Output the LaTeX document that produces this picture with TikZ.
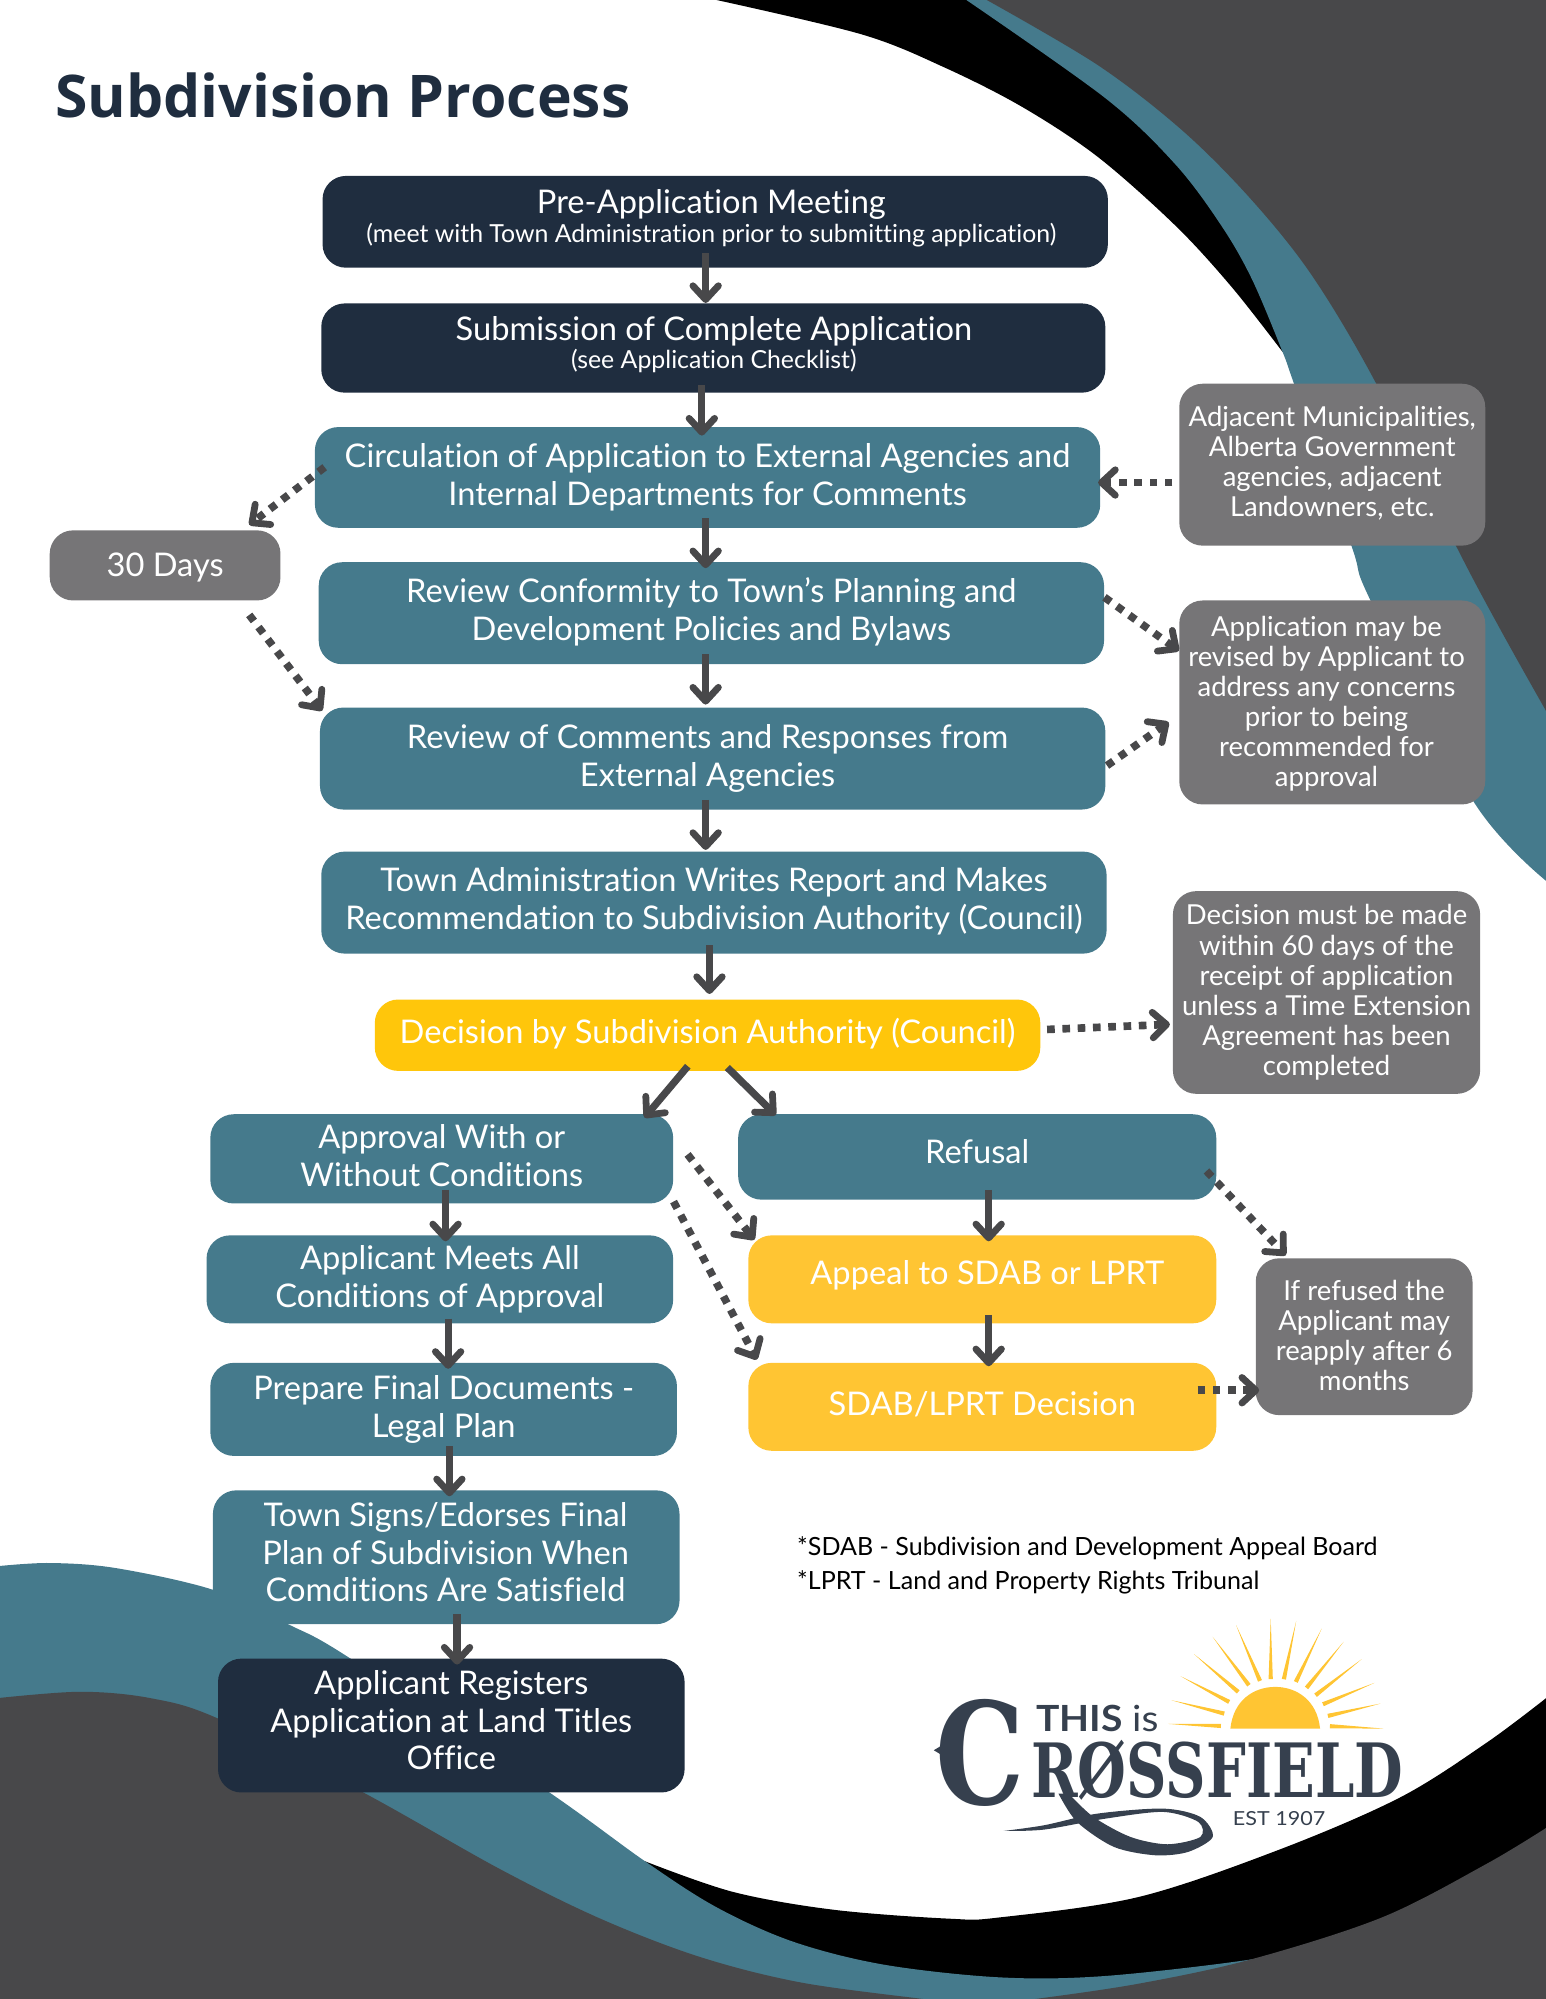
\documentclass[tikz,border=0pt]{standalone}
\usepackage{fontspec}
\setmainfont{Lato}[Ligatures=NoCommon]
\newfontfamily\titlefont{Open Sans}
\newfontfamily\logoserif{DejaVu Serif}
\usetikzlibrary{arrows.meta,calc}
\definecolor{navy}{HTML}{1F2D3F}
\definecolor{teal1}{HTML}{457A8C}
\definecolor{greybox}{HTML}{767577}
\definecolor{darkgrey}{HTML}{48484A}
\definecolor{gold}{HTML}{FFC60B}
\definecolor{goldlight}{HTML}{FFC533}
\definecolor{logoink}{HTML}{36404E}
\tikzset{
  box/.style={rounded corners=11pt,inner sep=0pt,align=center,text=white,
    font=\fontsize{15.35}{17.7}\selectfont},
  navybox/.style={box,fill=navy},
  tealbox/.style={box,fill=teal1},
  goldbox/.style={box,fill=gold},
  yelbox/.style={box,fill=goldlight},
  greyb/.style={box,fill=greybox,font=\fontsize{12.95}{14.2}\selectfont},
  arr/.style={draw=darkgrey,line width=3.4pt,-{Straight Barb[length=6.5pt,width=12pt,round,line width=3.2pt]}},
  darr/.style={draw=darkgrey,line width=3.6pt,dash pattern=on 3.6pt off 3.6pt,-{Straight Barb[length=6.5pt,width=12pt,round,line width=3.2pt]}},
}
% box named #1 and its text, placed at an offset #7 from the box centre
\newcommand{\bx}[8]{\node[#2,minimum width={(#5-#3+1)*0.6pt},minimum height={(#6-#4+1)*0.6pt}] (#1) at ({(#3+#5+1)/2},{(#4+#6+1)/2}) {};
  \node[#2,fill=none] (#1t) at ([shift={(#7)}]#1.center) {#8};}
\newcommand{\sm}[1]{{\fontsize{11.7}{12.5}\selectfont #1}}
\begin{document}
\begin{tikzpicture}[x=0.6pt,y=-0.6pt]
\useasboundingbox (0,0) rectangle (1212,1568);
% top right swooshes
\fill[black] plot[smooth,tension=0.55] coordinates {(562,0) (676,27) (741,53) (802,84) (861,123) (922,177) (966,225) (1006,276)} -- (1212,0) -- cycle;
\fill[teal1] plot[smooth,tension=0.55] coordinates {(758,0) (867,77) (922,129) (958,177) (982,219) (1006,276) (1015,301) (1060,428) (1075,471) (1156,629) (1214,692)} -- (1214,0) -- cycle;
\fill[darkgrey] plot[smooth,tension=0.55] coordinates {(774,0) (861,51) (927,102) (981,156) (1029,216) (1079,300) (1142,428) (1177,494) (1214,560)} -- (1214,0) -- cycle;
% bottom swooshes
\fill[black] plot[smooth,tension=0.55] coordinates {(506,1460) (575,1484) (654,1498) (745,1505) (784,1504) (893,1488) (1003,1451) (1098,1410) (1166,1367) (1214,1331)} -- (1214,1570) -- (506,1570) -- cycle;
\fill[teal1] plot[smooth,tension=0.55] coordinates {(-2,1228.5) (39,1226) (91,1230) (167,1247) (226,1274) (275,1301) (431,1406) (506,1460) (562,1496) (622,1523) (693,1541) (784,1551) (866,1550) (981,1537) (1030,1525)} -- (1030,1570) -- (-2,1570) -- cycle;
\fill[darkgrey] plot[smooth,tension=0.55] coordinates {(-2,1332) (63,1327) (118,1332) (171,1348) (285,1406) (392,1466) (471,1505) (549,1535) (628,1555) (724,1568) (740,1570)} -- (-2,1570) -- cycle;
\fill[darkgrey] plot[smooth,tension=0.55] coordinates {(1214,1433) (1166,1462) (1084,1504) (981,1537) (893,1556) (812,1568) (790,1570)} -- (1214,1570) -- cycle;
% title
\node[anchor=west,inner sep=0pt,text=navy,font=\titlefont\bfseries\fontsize{27.7}{32}\selectfont] (title) at (43,75) {Subdivision Process};
% boxes
\bx{a}{navybox}{253}{138}{868}{209}{-3,-3}{Pre-Application Meeting\\[-3.9pt]\sm{(meet with Town Administration prior to submitting application)}}
\bx{b}{navybox}{252}{238}{866}{307}{0.5,-2.5}{Submission of Complete Application\\[-4.5pt]\sm{(see Application Checklist)}}
\bx{c}{tealbox}{247}{335}{862}{413}{0,0}{Circulation of Application to External Agencies and\\Internal Departments for Comments}
\bx{d}{tealbox}{250}{441}{865}{520}{0,-1}{Review Conformity to Town’s Planning and\\Development Policies and Bylaws}
\bx{e}{tealbox}{251}{555}{866}{634}{-4,0}{Review of Comments and Responses from\\External Agencies}
\bx{f}{tealbox}{252}{668}{867}{747}{0,-1}{Town Administration Writes Report and Makes\\Recommendation to Subdivision Authority (Council)}
\bx{g}{goldbox}{294}{784}{815}{839}{0,-1}{Decision by Subdivision Authority (Council)}
\bx{h}{tealbox}{165}{874}{527}{943}{0,-2.5}{Approval With or\\Without Conditions}
\bx{i}{tealbox}{579}{874}{953}{940}{0,-4}{Refusal}
\bx{j}{tealbox}{162}{969}{527}{1037}{0,0}{Applicant Meets All\\Conditions of Approval}
\bx{k}{yelbox}{587}{969}{953}{1037}{4,-3}{Appeal to SDAB or LPRT}
\bx{l}{tealbox}{165}{1069}{530}{1141}{0,0}{Prepare Final Documents -\\Legal Plan}
\bx{m}{yelbox}{587}{1069}{953}{1137}{0,-2}{SDAB/LPRT Decision}
\bx{n}{tealbox}{167}{1169}{532}{1273}{-0.5,-4}{Town Signs/Edorses Final\\Plan of Subdivision When\\Comditions Are Satisfield}
\bx{o}{navybox}{171}{1301}{536}{1405}{0,-4}{Applicant Registers\\Application at Land Titles\\Office}
\bx{p}{greyb,font=\fontsize{15.35}{17.7}\selectfont}{39}{416}{219}{470}{0,2}{30 Days}
\bx{q}{greyb}{925}{301}{1164}{427}{0,-1}{Adjacent Municipalities,\\Alberta Government\\agencies, adjacent\\Landowners, etc.}
\bx{r}{greyb}{925}{471}{1164}{630}{-4.5,1}{Application may be\\revised by Applicant to\\address any concerns\\prior to being\\recommended for\\approval}
\bx{s}{greyb}{920}{699}{1160}{857}{0,0}{Decision must be made\\within 60 days of the\\receipt of application\\unless a Time Extension\\Agreement has been\\completed}
\bx{t}{greyb}{985}{987}{1154}{1109}{0,-1}{If refused the\\Applicant may\\reapply after 6\\months}
% solid arrows
\draw[arr] ([shift={(-7.5,-12)}]a.south) -- ([shift={(-6,0)}]b.north);
\draw[arr] ([shift={(-9,-6)}]b.south) -- ([shift={(-4.5,7)}]c.north);
\draw[arr] ([shift={(-1.5,-8)}]c.south) -- ([shift={(-4.5,5)}]d.north);
\draw[arr] ([shift={(-4.5,-8)}]d.south) -- ([shift={(-5.5,-2)}]e.north);
\draw[arr] ([shift={(-5.5,-8)}]e.south) -- ([shift={(-6.5,-1)}]f.north);
\draw[arr] ([shift={(-3.5,-7)}]f.south) -- ([shift={(1.5,-4)}]g.north);
\draw[arr] ([shift={(-15.5,-4)}]g.south) -- ([shift={(159,3)}]h.north);
\draw[arr] ([shift={(15.5,-3)}]g.south) -- ([shift={(-158,1)}]i.north);
\draw[arr] ([shift={(3,-11)}]h.south) -- ([shift={(4.5,5)}]j.north);
\draw[arr] ([shift={(9,-8)}]i.south) -- ([shift={(5,5)}]k.north);
\draw[arr] ([shift={(6.5,-4)}]j.south) -- ([shift={(3.5,5)}]l.north);
\draw[arr] ([shift={(5,-7)}]k.south) -- ([shift={(5,3)}]m.north);
\draw[arr] ([shift={(4.5,-8)}]l.south) -- ([shift={(2.5,5)}]n.north);
\draw[arr] ([shift={(8.5,-8)}]n.south) -- ([shift={(4.5,5)}]o.north);
% dotted arrows
\draw[darr] ([shift={(8,-8)}]c.west) -- ([shift={(66,-4)}]p.north);
\draw[darr] ([shift={(66,11)}]p.south) -- ([shift={(2,-37.5)}]e.west);
\draw[darr] ([shift={(-5,14)}]q.west) -- ([shift={(-2,4)}]c.east);
\draw[darr] ([shift={(0,-12.5)}]d.east) -- ([shift={(0,-40.5)}]r.west);
\draw[darr] ([shift={(1,5.5)}]e.east) -- ([shift={(-8,15.5)}]r.west);
\draw[darr] ([shift={(5,-4.5)}]g.east) -- ([shift={(-2,25)}]s.west);
\draw[darr] ([shift={(11,-3.5)}]h.east) -- ([shift={(5,-31)}]k.west);
\draw[darr] ([shift={(0,33.5)}]h.east) -- ([shift={(7,-37)}]m.west);
\draw[darr] ([shift={(-8,11)}]i.east) -- ([shift={(-61.5,-2)}]t.north);
\draw[darr] ([shift={(-15,-13)}]m.east) -- ([shift={(3,42)}]t.west);
% footnotes
\node[anchor=west,inner sep=0pt,text=black,font=\fontsize{11.8}{13}\selectfont] (fn1) at (625,1214) {*SDAB - Subdivision and Development Appeal Board};
\node[anchor=west,inner sep=0pt,text=black,font=\fontsize{11.8}{13}\selectfont] (fn2) at (625,1241) {*LPRT - Land and Property Rights Tribunal};
% logo
\begin{scope}[shift={(706,1239.5)},x=0.1936pt,y=-0.1569pt]
  \foreach \ox/\oy/\ix/\iy in {652/431/780/437,660/360/788/400,682/288/800/365,715/222/822/335,760/170/848/315,817/135/875/302,901/115/901/297,963/122/933/297,1025/145/962/305,1078/185/988/323,1122/237/1010/345,1153/308/1028/372,1168/370/1040/407,1175/445/1045/438}{
    \fill[goldlight] (\ox,\oy) -- ($(\ix,\iy)!1pt!90:(\ox,\oy)$) -- ($(\ix,\iy)!1pt!-90:(\ox,\oy)$) -- cycle;
  }
  \fill[goldlight] (803,445) .. controls (810,360) and (860,320) .. (912,320) .. controls (964,320) and (1014,360) .. (1021,445) -- cycle;
  \node[anchor=west,inner sep=0pt,text=logoink] (logoC) at (85,517) {\resizebox{42pt}{49.5pt}{\logoserif\bfseries C}};
  \fill[logoink] (82,510) -- (125,478) -- (125,542) -- cycle;
  \node[anchor=west,inner sep=0pt,text=logoink] (logothis) at (330,415) {\resizebox{57.5pt}{12.4pt}{\bfseries THIS \mdseries is}};
  \node[anchor=west,inner sep=0pt,text=logoink] (logoname) at (318,570) {\resizebox{175pt}{27pt}{\logoserif\bfseries RØSSFIELD}};
  \node[anchor=west,inner sep=0pt,text=logoink] (logoest) at (808,716) {\resizebox{43.5pt}{6.6pt}{EST 1907}};
  \fill[logoink] plot[smooth,tension=0.5] coordinates {(252,752) (350,735) (480,700) (640,685) (730,710) (760,770) (700,815) (620,825) (520,800) (430,725) (385,640)} -- plot[smooth,tension=0.5] coordinates {(410,640) (470,710) (560,770) (650,792) (730,770) (725,725) (640,695) (500,715) (350,748) (252,752)} -- cycle;
\end{scope}
\end{tikzpicture}
\end{document}
